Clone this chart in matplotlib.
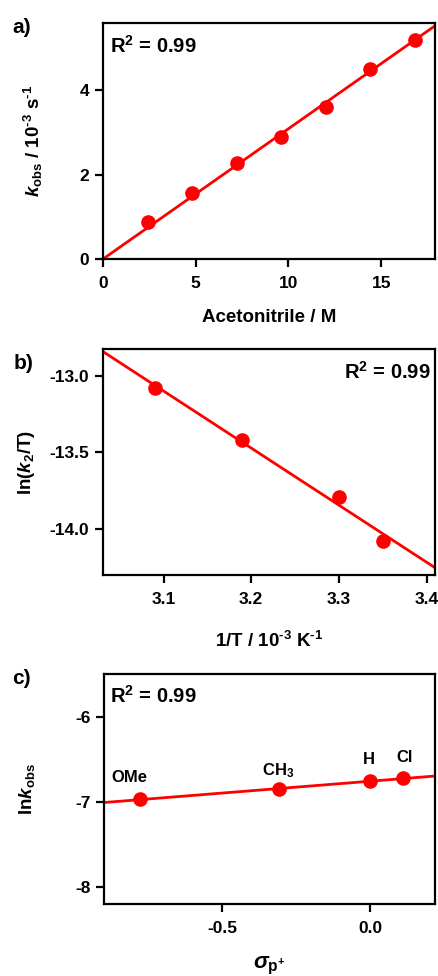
import numpy as np
import matplotlib
matplotlib.use('Agg')
import matplotlib.pyplot as plt

# fonts: bold Arial-like everywhere, maths in the same family
plt.rcParams['font.family'] = ['Liberation Sans', 'DejaVu Sans']
plt.rcParams['font.weight'] = 'bold'
plt.rcParams['axes.labelweight'] = 'bold'
plt.rcParams['mathtext.fontset'] = 'custom'
plt.rcParams['mathtext.rm'] = 'Liberation Sans:bold'
plt.rcParams['mathtext.bf'] = 'Liberation Sans:bold'
plt.rcParams['mathtext.sf'] = 'Liberation Sans:bold'
plt.rcParams['mathtext.it'] = 'Liberation Sans:bold:italic'
plt.rcParams['mathtext.default'] = 'bf'

# a) kobs vs acetonitrile concentration
acn_conc = [2.4, 4.8, 7.2, 9.6, 12.0, 14.4, 16.8]
kobs = [0.87, 1.57, 2.27, 2.89, 3.60, 4.52, 5.20]

# b) Eyring plot
inv_T = [3.09, 3.19, 3.30, 3.35]
ln_k2_T = [-13.08, -13.42, -13.79, -14.08]

# c) Hammett plot
sigma_p = [-0.78, -0.31, 0.0, 0.11]
ln_kobs = [-6.97, -6.85, -6.76, -6.72]
subst = ['OMe', 'CH$_3$', 'H', 'Cl']

R2_TEXT = r'R$^{\text{2}}$ = 0.99'
RED = '#ff0000'
TICK_FS = 12.5
LABEL_FS = 13.5
LABEL_OFFSETS = [(-10, 17), (0, 14), (-1, 17), (2, 16)]   # pixels, for substituent labels

fig = plt.figure(figsize=(4.39, 9.76), dpi=100)
ax_a = fig.add_axes([0.2346, 0.7346, 0.7564, 0.2418])
ax_b = fig.add_axes([0.2346, 0.4109, 0.7564, 0.2315])
ax_c = fig.add_axes([0.2376, 0.0738, 0.7534, 0.2353])


def style(ax):
    for sp in ax.spines.values():
        sp.set_linewidth(1.6)
    ax.tick_params(direction='out', length=6, width=1.6,
                   labelsize=TICK_FS, top=False, right=False)
    ax.tick_params(axis='x', pad=6.5)
    ax.tick_params(axis='y', pad=4)


# --- panel a ---
xa = np.array(acn_conc)
ya = np.array(kobs)
slope_a = np.sum(xa * ya) / np.sum(xa * xa)   # fit through origin
xl = np.array([0, 20])
ax_a.plot(xl, slope_a * xl, color=RED, lw=2, zorder=2)
ax_a.plot(xa, ya, 'o', color=RED, ms=9.5, zorder=3)
ax_a.set_xlim(0, 17.9)
ax_a.set_ylim(0, 5.6)
ax_a.set_xticks([0, 5, 10, 15])
ax_a.set_yticks([0, 2, 4])
style(ax_a)
ax_a.set_xlabel('Acetonitrile / M', fontsize=LABEL_FS)
ax_a.xaxis.label.set_va('baseline')
ax_a.xaxis.set_label_coords(0.5, -0.266)
ax_a.set_ylabel(r'$\mathit{k}_{\mathrm{obs}}$ / 10$^{\text{-3}}$ s$^{\text{-1}}$', fontsize=LABEL_FS)
ax_a.yaxis.label.set_va('baseline')
ax_a.yaxis.set_label_coords(-0.19, 0.5)
ax_a.text(0.022, 0.872, R2_TEXT, transform=ax_a.transAxes, fontsize=14.5,
          ha='left', va='baseline')

# --- panel b ---
xb = np.array(inv_T)
yb = np.array(ln_k2_T)
pb = np.polyfit(xb, yb, 1)
xl = np.array([3.0, 3.45])
ax_b.plot(xl, np.polyval(pb, xl), color=RED, lw=2, zorder=2)
ax_b.plot(xb, yb, 'o', color=RED, ms=9.5, zorder=3)
ax_b.set_xlim(3.031, 3.4095)
ax_b.set_ylim(-14.30, -12.824)
ax_b.set_xticks([3.1, 3.2, 3.3, 3.4])
ax_b.set_yticks([-13.0, -13.5, -14.0])
ax_b.set_yticklabels(['-13.0', '-13.5', '-14.0'])
style(ax_b)
ax_b.set_xlabel(r'1/T / 10$^{\text{-3}}$ K$^{\text{-1}}$', fontsize=LABEL_FS)
ax_b.xaxis.label.set_va('baseline')
ax_b.xaxis.set_label_coords(0.5, -0.317)
ax_b.set_ylabel(r'ln($\mathit{k}_{\mathrm{2}}$/T)', fontsize=LABEL_FS)
ax_b.yaxis.label.set_va('baseline')
ax_b.yaxis.set_label_coords(-0.217, 0.5)
ax_b.text(0.985, 0.870, R2_TEXT, transform=ax_b.transAxes, fontsize=14.5,
          ha='right', va='baseline')

# --- panel c ---
xc = np.array(sigma_p)
yc = np.array(ln_kobs)
pc = np.polyfit(xc, yc, 1)
xl = np.array([-1.0, 0.3])
ax_c.plot(xl, np.polyval(pc, xl), color=RED, lw=2, zorder=2)
ax_c.plot(xc, yc, 'o', color=RED, ms=9.5, zorder=3)
for x, y, lab, off in zip(xc, yc, subst, LABEL_OFFSETS):
    ax_c.annotate(lab, (x, y), xytext=off, textcoords='offset pixels',
                  ha='center', va='baseline', fontsize=12)
ax_c.set_xlim(-0.90, 0.22)
ax_c.set_ylim(-8.2, -5.5)
ax_c.set_xticks([-0.5, 0.0])
ax_c.set_xticklabels(['-0.5', '0.0'])
ax_c.set_yticks([-6, -7, -8])
ax_c.set_yticklabels(['-6', '-7', '-8'])
style(ax_c)
ax_c.set_xlabel(r'$\mathit{\sigma}_{\mathrm{p^{+}}}$', fontsize=16)
ax_c.xaxis.label.set_va('baseline')
ax_c.xaxis.set_label_coords(0.5, -0.279)
ax_c.set_ylabel(r'ln$\mathit{k}_{\mathrm{obs}}$', fontsize=LABEL_FS)
ax_c.yaxis.label.set_va('baseline')
ax_c.yaxis.set_label_coords(-0.219, 0.5)
ax_c.text(0.017, 0.874, R2_TEXT, transform=ax_c.transAxes, fontsize=14.5,
          ha='left', va='baseline')

# panel letters
fig.text(0.028, 0.9723, 'a)', fontsize=15, va='center')
fig.text(0.030, 0.628, 'b)', fontsize=15, va='center')
fig.text(0.028, 0.3053, 'c)', fontsize=15, va='center')

fig.savefig('out.png', dpi=100)
